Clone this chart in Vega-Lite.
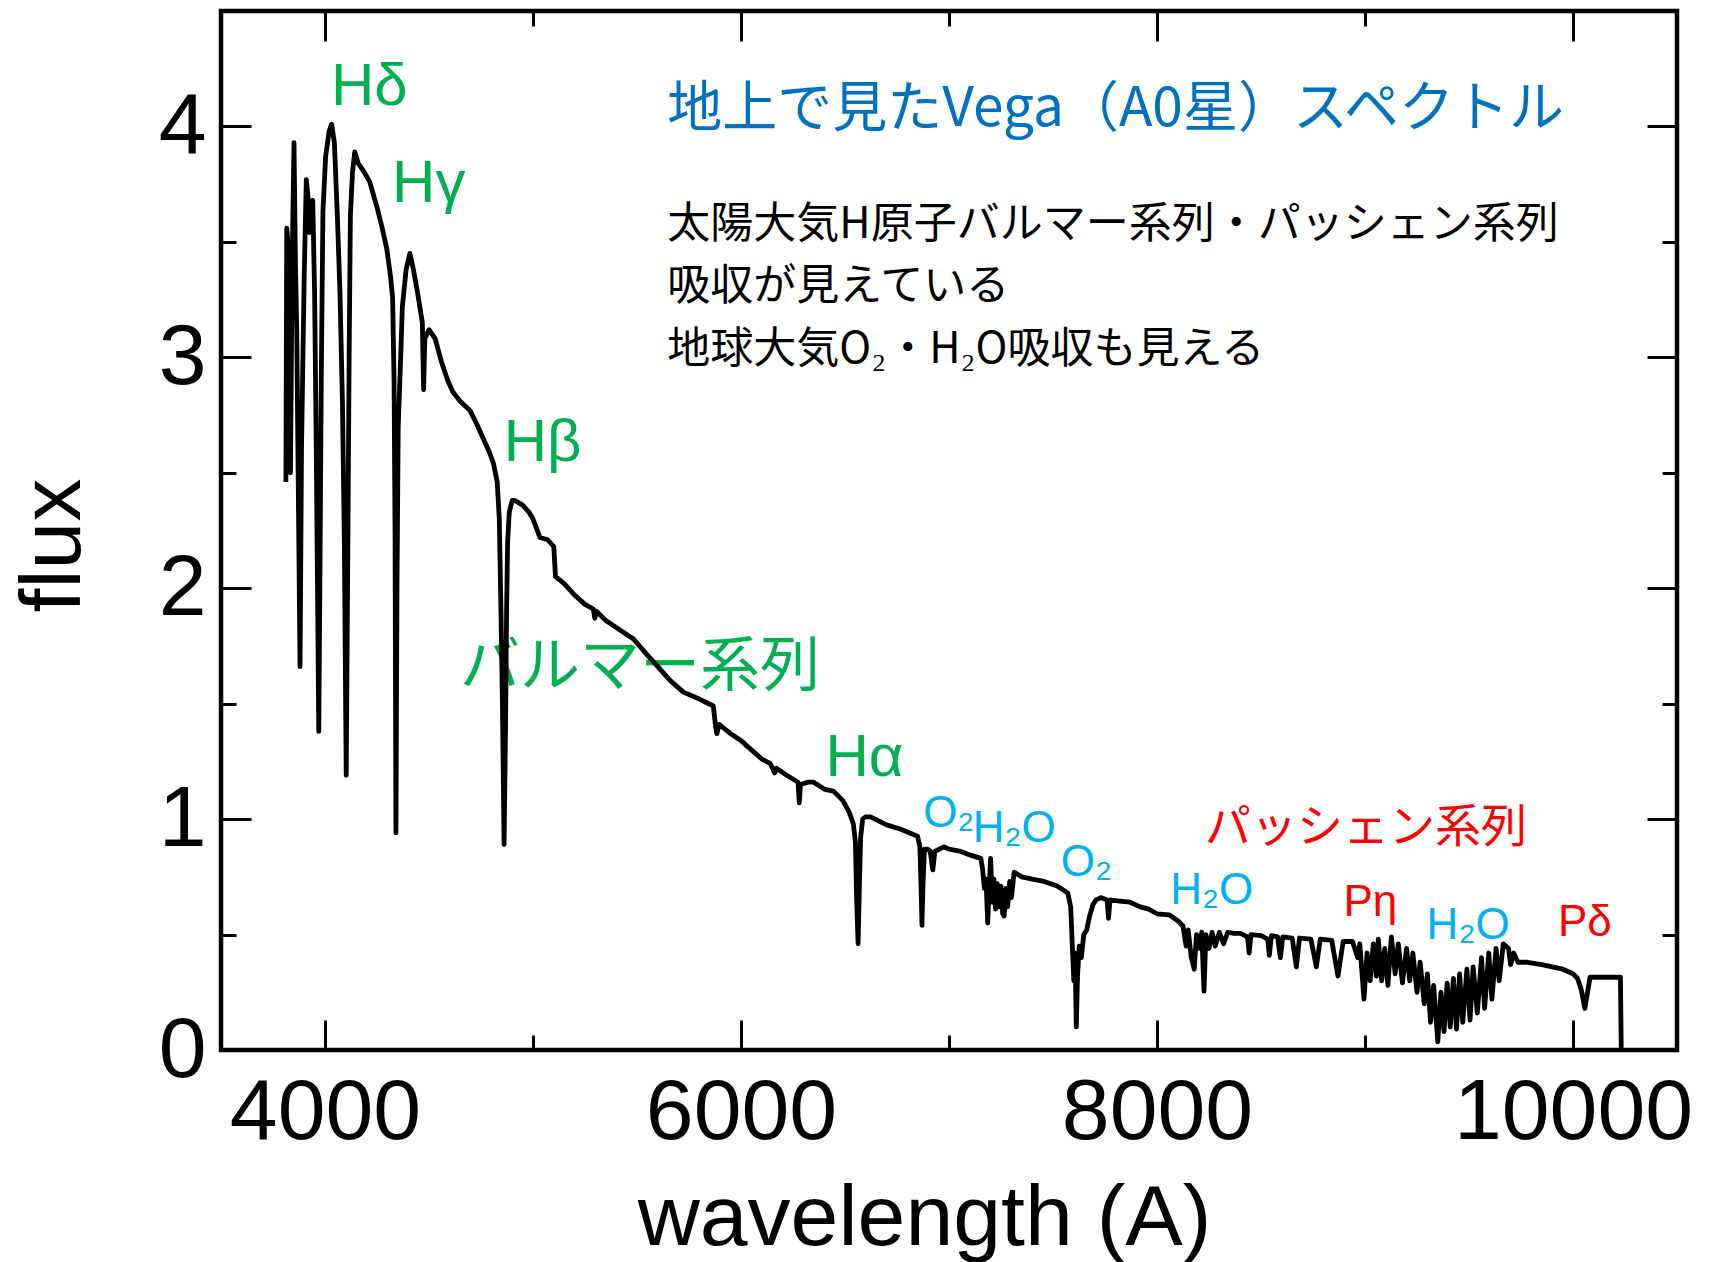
{
  "$schema": "https://vega.github.io/schema/vega-lite/v6.json",
  "width": 1456,
  "height": 1039,
  "autosize": {"type": "none"},
  "padding": {"left": 221, "top": 11, "right": 34, "bottom": 212},
  "background": "white",
  "config": {
    "view": {"stroke": "black", "strokeWidth": 4.5},
    "axis": {
      "grid": false,
      "domain": false,
      "tickColor": "black",
      "tickWidth": 3,
      "labelColor": "black",
      "labelFont": "Liberation Sans",
      "titleFont": "Liberation Sans",
      "titleFontWeight": "normal",
      "titleColor": "black",
      "labelFlush": false,
      "labelOverlap": false,
      "labelBound": false,
      "labelLimit": 0,
      "titleLimit": 0
    }
  },
  "resolve": {"axis": {"x": "independent", "y": "independent"}},
  "datasets": {
    "greenLatin": [
      {"label": "Hδ", "w": 4213, "f": 4.093},
      {"label": "Hγ", "w": 4499, "f": 3.674},
      {"label": "Hβ", "w": 5046, "f": 2.549},
      {"label": "Hα", "w": 6594, "f": 1.186}
    ],
    "greenJa": [{"label": "バルマー系列", "w": 5515, "f": 1.575}],
    "cyan": [
      {"label": "O₂", "w": 6999, "f": 0.965},
      {"label": "H₂O", "w": 7314, "f": 0.9},
      {"label": "O₂", "w": 7661, "f": 0.753},
      {"label": "H₂O", "w": 8263, "f": 0.632},
      {"label": "H₂O", "w": 9496, "f": 0.48}
    ],
    "redLatin": [
      {"label": "Pη", "w": 9026, "f": 0.58},
      {"label": "Pδ", "w": 10057, "f": 0.493}
    ],
    "redJa": [{"label": "パッシェン系列", "w": 9005, "f": 0.902}],
    "title": [{"label": "地上で見たVega（A0星）スペクトル", "w": 5646, "f": 4.0}],
    "notes": [
      {"label": "太陽大気H原子バルマー系列・パッシェン系列\n吸収が見えている\n地球大気O₂・H₂O吸収も見える", "w": 5646, "f": 3.518}
    ],
    "spec": [
      {"w": 3812, "f": 2.46}, {"w": 3816, "f": 3.56}, {"w": 3826, "f": 3.45}, {"w": 3834, "f": 2.5},
      {"w": 3842, "f": 3.4}, {"w": 3851, "f": 3.93}, {"w": 3858, "f": 3.4}, {"w": 3864, "f": 3.13},
      {"w": 3872, "f": 2.4}, {"w": 3880, "f": 1.66}, {"w": 3887, "f": 2.6}, {"w": 3893, "f": 2.95},
      {"w": 3900, "f": 3.35}, {"w": 3910, "f": 3.77}, {"w": 3918, "f": 3.7}, {"w": 3926, "f": 3.54},
      {"w": 3934, "f": 3.62}, {"w": 3941, "f": 3.68}, {"w": 3950, "f": 3.28}, {"w": 3958, "f": 2.6},
      {"w": 3964, "f": 2.0}, {"w": 3970, "f": 1.38}, {"w": 3976, "f": 2.1}, {"w": 3982, "f": 2.9},
      {"w": 3990, "f": 3.63}, {"w": 4003, "f": 3.87}, {"w": 4020, "f": 3.98}, {"w": 4032, "f": 4.01},
      {"w": 4045, "f": 3.93}, {"w": 4060, "f": 3.6}, {"w": 4072, "f": 3.28}, {"w": 4084, "f": 2.8},
      {"w": 4093, "f": 2.2}, {"w": 4102, "f": 1.19}, {"w": 4110, "f": 2.2}, {"w": 4116, "f": 3.0},
      {"w": 4122, "f": 3.61}, {"w": 4132, "f": 3.8}, {"w": 4143, "f": 3.89}, {"w": 4160, "f": 3.84},
      {"w": 4190, "f": 3.8}, {"w": 4215, "f": 3.76}, {"w": 4250, "f": 3.65}, {"w": 4275, "f": 3.56},
      {"w": 4297, "f": 3.47}, {"w": 4315, "f": 3.35}, {"w": 4325, "f": 3.26}, {"w": 4332, "f": 2.9},
      {"w": 4337, "f": 2.2}, {"w": 4341, "f": 0.94}, {"w": 4346, "f": 2.0}, {"w": 4352, "f": 2.7},
      {"w": 4362, "f": 2.95}, {"w": 4372, "f": 3.22}, {"w": 4390, "f": 3.38}, {"w": 4408, "f": 3.45},
      {"w": 4425, "f": 3.38}, {"w": 4445, "f": 3.28}, {"w": 4468, "f": 3.15}, {"w": 4474, "f": 2.86},
      {"w": 4480, "f": 3.08}, {"w": 4500, "f": 3.12}, {"w": 4530, "f": 3.08}, {"w": 4560, "f": 2.98},
      {"w": 4590, "f": 2.9}, {"w": 4615, "f": 2.85}, {"w": 4650, "f": 2.81}, {"w": 4697, "f": 2.77},
      {"w": 4730, "f": 2.71}, {"w": 4760, "f": 2.65}, {"w": 4790, "f": 2.59}, {"w": 4810, "f": 2.54},
      {"w": 4828, "f": 2.46}, {"w": 4838, "f": 2.3}, {"w": 4846, "f": 1.9}, {"w": 4853, "f": 1.5},
      {"w": 4861, "f": 0.89}, {"w": 4868, "f": 1.4}, {"w": 4873, "f": 1.9}, {"w": 4878, "f": 2.2},
      {"w": 4886, "f": 2.33}, {"w": 4900, "f": 2.38}, {"w": 4913, "f": 2.38}, {"w": 4950, "f": 2.36},
      {"w": 4980, "f": 2.33}, {"w": 5000, "f": 2.3}, {"w": 5033, "f": 2.22}, {"w": 5070, "f": 2.21},
      {"w": 5100, "f": 2.18}, {"w": 5108, "f": 2.05}, {"w": 5150, "f": 2.02}, {"w": 5200, "f": 1.97},
      {"w": 5250, "f": 1.93}, {"w": 5290, "f": 1.91}, {"w": 5297, "f": 1.87}, {"w": 5305, "f": 1.9},
      {"w": 5350, "f": 1.86}, {"w": 5400, "f": 1.83}, {"w": 5483, "f": 1.78}, {"w": 5550, "f": 1.71},
      {"w": 5600, "f": 1.66}, {"w": 5660, "f": 1.6}, {"w": 5723, "f": 1.55}, {"w": 5800, "f": 1.52},
      {"w": 5867, "f": 1.49}, {"w": 5878, "f": 1.4}, {"w": 5884, "f": 1.37}, {"w": 5895, "f": 1.41},
      {"w": 5950, "f": 1.37}, {"w": 6000, "f": 1.34}, {"w": 6050, "f": 1.3}, {"w": 6100, "f": 1.26},
      {"w": 6141, "f": 1.24}, {"w": 6162, "f": 1.2}, {"w": 6170, "f": 1.22}, {"w": 6220, "f": 1.19},
      {"w": 6274, "f": 1.16}, {"w": 6280, "f": 1.07}, {"w": 6286, "f": 1.15}, {"w": 6320, "f": 1.16},
      {"w": 6349, "f": 1.16}, {"w": 6400, "f": 1.13}, {"w": 6446, "f": 1.12}, {"w": 6490, "f": 1.08},
      {"w": 6520, "f": 1.03}, {"w": 6540, "f": 0.98}, {"w": 6550, "f": 0.9}, {"w": 6556, "f": 0.65},
      {"w": 6563, "f": 0.46}, {"w": 6569, "f": 0.7}, {"w": 6575, "f": 0.92}, {"w": 6585, "f": 1.0},
      {"w": 6600, "f": 1.01}, {"w": 6623, "f": 1.01}, {"w": 6700, "f": 0.975}, {"w": 6768, "f": 0.956},
      {"w": 6849, "f": 0.926}, {"w": 6860, "f": 0.88}, {"w": 6866, "f": 0.7}, {"w": 6870, "f": 0.54},
      {"w": 6875, "f": 0.72}, {"w": 6882, "f": 0.87}, {"w": 6897, "f": 0.87}, {"w": 6910, "f": 0.86},
      {"w": 6922, "f": 0.78}, {"w": 6932, "f": 0.86}, {"w": 6975, "f": 0.88}, {"w": 7000, "f": 0.87},
      {"w": 7057, "f": 0.86}, {"w": 7100, "f": 0.845}, {"w": 7153, "f": 0.83}, {"w": 7162, "f": 0.78},
      {"w": 7170, "f": 0.7}, {"w": 7178, "f": 0.74}, {"w": 7186, "f": 0.55}, {"w": 7194, "f": 0.72},
      {"w": 7200, "f": 0.83}, {"w": 7208, "f": 0.64}, {"w": 7216, "f": 0.74}, {"w": 7224, "f": 0.61},
      {"w": 7232, "f": 0.72}, {"w": 7242, "f": 0.62}, {"w": 7250, "f": 0.71}, {"w": 7258, "f": 0.59},
      {"w": 7265, "f": 0.58}, {"w": 7274, "f": 0.7}, {"w": 7282, "f": 0.62}, {"w": 7292, "f": 0.73},
      {"w": 7300, "f": 0.66}, {"w": 7313, "f": 0.77}, {"w": 7350, "f": 0.75}, {"w": 7400, "f": 0.74},
      {"w": 7457, "f": 0.73}, {"w": 7520, "f": 0.71}, {"w": 7571, "f": 0.68}, {"w": 7585, "f": 0.62},
      {"w": 7593, "f": 0.45}, {"w": 7600, "f": 0.3}, {"w": 7606, "f": 0.42}, {"w": 7612, "f": 0.1},
      {"w": 7618, "f": 0.32}, {"w": 7626, "f": 0.45}, {"w": 7636, "f": 0.4}, {"w": 7648, "f": 0.5},
      {"w": 7662, "f": 0.52}, {"w": 7676, "f": 0.58}, {"w": 7692, "f": 0.63}, {"w": 7707, "f": 0.65},
      {"w": 7730, "f": 0.66}, {"w": 7760, "f": 0.65}, {"w": 7767, "f": 0.57}, {"w": 7774, "f": 0.65},
      {"w": 7820, "f": 0.645}, {"w": 7870, "f": 0.64}, {"w": 7920, "f": 0.62}, {"w": 7960, "f": 0.61},
      {"w": 8000, "f": 0.59}, {"w": 8060, "f": 0.585}, {"w": 8100, "f": 0.56}, {"w": 8125, "f": 0.537},
      {"w": 8140, "f": 0.45}, {"w": 8150, "f": 0.52}, {"w": 8165, "f": 0.4}, {"w": 8179, "f": 0.35},
      {"w": 8190, "f": 0.5}, {"w": 8205, "f": 0.44}, {"w": 8215, "f": 0.51}, {"w": 8226, "f": 0.255},
      {"w": 8235, "f": 0.5}, {"w": 8250, "f": 0.44}, {"w": 8265, "f": 0.51}, {"w": 8280, "f": 0.45},
      {"w": 8300, "f": 0.51}, {"w": 8320, "f": 0.46}, {"w": 8340, "f": 0.51}, {"w": 8370, "f": 0.505},
      {"w": 8400, "f": 0.505}, {"w": 8435, "f": 0.49}, {"w": 8443, "f": 0.42}, {"w": 8452, "f": 0.5},
      {"w": 8500, "f": 0.495}, {"w": 8532, "f": 0.48}, {"w": 8540, "f": 0.41}, {"w": 8550, "f": 0.495},
      {"w": 8580, "f": 0.49}, {"w": 8593, "f": 0.4}, {"w": 8605, "f": 0.49}, {"w": 8650, "f": 0.485},
      {"w": 8670, "f": 0.36}, {"w": 8685, "f": 0.485}, {"w": 8740, "f": 0.48}, {"w": 8766, "f": 0.36},
      {"w": 8785, "f": 0.48}, {"w": 8840, "f": 0.475}, {"w": 8870, "f": 0.32}, {"w": 8895, "f": 0.47},
      {"w": 8940, "f": 0.47}, {"w": 8965, "f": 0.4}, {"w": 8975, "f": 0.46}, {"w": 8995, "f": 0.22},
      {"w": 9010, "f": 0.42}, {"w": 9025, "f": 0.3}, {"w": 9040, "f": 0.46}, {"w": 9055, "f": 0.32},
      {"w": 9064, "f": 0.48}, {"w": 9080, "f": 0.3}, {"w": 9095, "f": 0.44}, {"w": 9110, "f": 0.28},
      {"w": 9127, "f": 0.49}, {"w": 9145, "f": 0.33}, {"w": 9160, "f": 0.46}, {"w": 9180, "f": 0.29},
      {"w": 9200, "f": 0.44}, {"w": 9215, "f": 0.3}, {"w": 9230, "f": 0.42}, {"w": 9250, "f": 0.25},
      {"w": 9265, "f": 0.38}, {"w": 9285, "f": 0.2}, {"w": 9300, "f": 0.33}, {"w": 9315, "f": 0.12},
      {"w": 9330, "f": 0.28}, {"w": 9350, "f": 0.035}, {"w": 9365, "f": 0.25}, {"w": 9380, "f": 0.08},
      {"w": 9395, "f": 0.29}, {"w": 9410, "f": 0.1}, {"w": 9425, "f": 0.31}, {"w": 9440, "f": 0.09},
      {"w": 9455, "f": 0.33}, {"w": 9470, "f": 0.12}, {"w": 9490, "f": 0.35}, {"w": 9505, "f": 0.13},
      {"w": 9520, "f": 0.36}, {"w": 9540, "f": 0.16}, {"w": 9560, "f": 0.4}, {"w": 9575, "f": 0.18},
      {"w": 9595, "f": 0.42}, {"w": 9610, "f": 0.22}, {"w": 9630, "f": 0.44}, {"w": 9645, "f": 0.3},
      {"w": 9665, "f": 0.46}, {"w": 9690, "f": 0.44}, {"w": 9700, "f": 0.37}, {"w": 9715, "f": 0.42},
      {"w": 9735, "f": 0.38}, {"w": 9781, "f": 0.38}, {"w": 9850, "f": 0.37}, {"w": 9900, "f": 0.36},
      {"w": 9951, "f": 0.35}, {"w": 10000, "f": 0.33}, {"w": 10022, "f": 0.31}, {"w": 10040, "f": 0.26},
      {"w": 10057, "f": 0.18}, {"w": 10068, "f": 0.24}, {"w": 10082, "f": 0.315}, {"w": 10150, "f": 0.315},
      {"w": 10228, "f": 0.315}, {"w": 10232, "f": 0.0}
    ]
  },
  "layer": [
    {
      "data": {"name": "greenLatin"},
      "mark": {"type": "text", "color": "#00B050", "font": "Liberation Sans", "fontSize": 60, "align": "center", "baseline": "alphabetic"},
      "encoding": {
        "x": {"field": "w", "type": "quantitative", "scale": {"domain": [3500, 10500], "nice": false, "zero": false},
              "axis": {"orient": "bottom", "values": [5000, 7000, 9000], "tickSize": -15, "labels": false, "title": null}},
        "y": {"field": "f", "type": "quantitative", "scale": {"domain": [0, 4.5], "nice": false, "zero": false},
              "axis": {"orient": "left", "values": [0.5, 1.5, 2.5, 3.5], "tickSize": -15, "labels": false, "title": null}},
        "text": {"field": "label"}
      }
    },
    {
      "data": {"name": "cyan"},
      "mark": {"type": "text", "color": "#00B0F0", "font": "Liberation Sans", "fontSize": 44, "align": "center", "baseline": "alphabetic"},
      "encoding": {
        "x": {"field": "w", "type": "quantitative", "scale": {"domain": [3500, 10500], "nice": false, "zero": false},
              "axis": {"orient": "top", "values": [4000, 6000, 8000, 10000], "tickSize": -30, "labels": false, "title": null}},
        "y": {"field": "f", "type": "quantitative", "scale": {"domain": [0, 4.5], "nice": false, "zero": false},
              "axis": {"orient": "right", "values": [0, 1, 2, 3, 4], "tickSize": -30, "labels": false, "title": null}},
        "text": {"field": "label"}
      }
    },
    {
      "data": {"name": "redLatin"},
      "mark": {"type": "text", "color": "#FF0000", "font": "Liberation Sans", "fontSize": 44, "align": "center", "baseline": "alphabetic"},
      "encoding": {
        "x": {"field": "w", "type": "quantitative", "scale": {"domain": [3500, 10500], "nice": false, "zero": false},
              "axis": {"orient": "top", "values": [5000, 7000, 9000], "tickSize": -15, "labels": false, "title": null}},
        "y": {"field": "f", "type": "quantitative", "scale": {"domain": [0, 4.5], "nice": false, "zero": false},
              "axis": {"orient": "right", "values": [0.5, 1.5, 2.5, 3.5], "tickSize": -15, "labels": false, "title": null}},
        "text": {"field": "label"}
      }
    },
    {
      "data": {"name": "greenJa"},
      "mark": {"type": "text", "color": "#00B050", "font": "Noto Sans CJK JP", "fontSize": 60, "align": "center", "baseline": "alphabetic"},
      "encoding": {
        "x": {"field": "w", "type": "quantitative", "scale": {"domain": [3500, 10500], "nice": false, "zero": false}, "axis": null},
        "y": {"field": "f", "type": "quantitative", "scale": {"domain": [0, 4.5], "nice": false, "zero": false}, "axis": null},
        "text": {"field": "label"}
      }
    },
    {
      "data": {"name": "redJa"},
      "mark": {"type": "text", "color": "#FF0000", "font": "Noto Sans CJK JP", "fontSize": 46, "align": "center", "baseline": "alphabetic"},
      "encoding": {
        "x": {"field": "w", "type": "quantitative", "scale": {"domain": [3500, 10500], "nice": false, "zero": false}, "axis": null},
        "y": {"field": "f", "type": "quantitative", "scale": {"domain": [0, 4.5], "nice": false, "zero": false}, "axis": null},
        "text": {"field": "label"}
      }
    },
    {
      "data": {"name": "title"},
      "mark": {"type": "text", "color": "#0070C0", "font": "Noto Sans CJK JP", "fontSize": 55, "align": "left", "baseline": "alphabetic"},
      "encoding": {
        "x": {"field": "w", "type": "quantitative", "scale": {"domain": [3500, 10500], "nice": false, "zero": false}, "axis": null},
        "y": {"field": "f", "type": "quantitative", "scale": {"domain": [0, 4.5], "nice": false, "zero": false}, "axis": null},
        "text": {"field": "label"}
      }
    },
    {
      "data": {"name": "notes"},
      "mark": {"type": "text", "color": "black", "font": "Noto Sans CJK JP", "fontSize": 43, "align": "left", "baseline": "alphabetic", "lineBreak": "\n", "lineHeight": 62.5},
      "encoding": {
        "x": {"field": "w", "type": "quantitative", "scale": {"domain": [3500, 10500], "nice": false, "zero": false}, "axis": null},
        "y": {"field": "f", "type": "quantitative", "scale": {"domain": [0, 4.5], "nice": false, "zero": false}, "axis": null},
        "text": {"field": "label"}
      }
    },
    {
      "data": {"name": "spec"},
      "mark": {"type": "line", "color": "black", "strokeWidth": 4.8, "strokeJoin": "round"},
      "encoding": {
        "x": {"field": "w", "type": "quantitative", "scale": {"domain": [3500, 10500], "nice": false, "zero": false},
              "axis": {"orient": "bottom", "values": [4000, 6000, 8000, 10000], "format": "d", "tickSize": -30, "labelPadding": 50,
                       "labelFontSize": 86, "title": "wavelength (A)", "titleFontSize": 86, "titleX": 703, "titleY": 194,
                       "titleBaseline": "alphabetic", "titleAlign": "center"}},
        "y": {"field": "f", "type": "quantitative", "scale": {"domain": [0, 4.5], "nice": false, "zero": false},
              "axis": {"orient": "left", "values": [0, 1, 2, 3, 4], "format": "d", "tickSize": -30, "labelPadding": 45,
                       "labelFontSize": 86, "title": "flux", "titleFontSize": 86, "titleAngle": -90, "titleX": -142, "titleY": 534,
                       "titleBaseline": "alphabetic", "titleAlign": "center"}}
      }
    }
  ]
}
